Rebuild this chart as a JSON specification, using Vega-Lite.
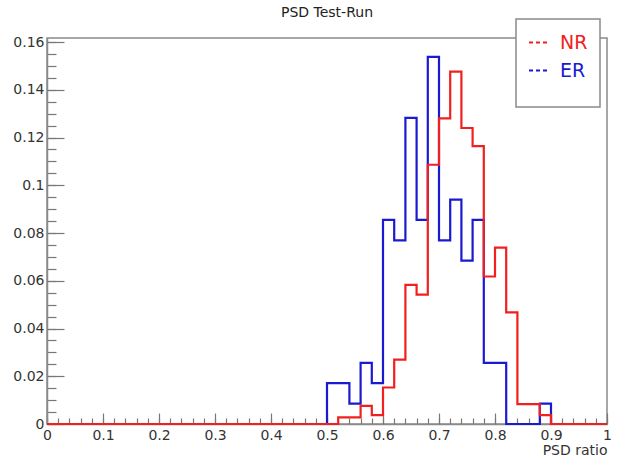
{
  "$schema": "https://vega.github.io/schema/vega-lite/v6.json",
  "width": 560,
  "height": 386,
  "autosize": {"type": "none"},
  "padding": {"left": 47, "top": 38, "right": 25, "bottom": 36},
  "background": "white",
  "title": {"text": "PSD Test-Run", "font": "DejaVu Sans", "fontSize": 14, "fontWeight": "normal", "color": "#222222", "anchor": "middle", "baseline": "bottom", "offset": -16},
  "config": {
    "view": {"stroke": "#8a8a8a", "strokeWidth": 1.5},
    "axis": {"grid": false, "labelFont": "DejaVu Sans", "labelFontSize": 14, "labelColor": "#333333", "domainColor": "#8a8a8a", "domainWidth": 1.5, "tickColor": "#777777", "tickWidth": 1.2, "titleFont": "DejaVu Sans", "titleFontWeight": "normal", "titleColor": "#333333"}
  },
  "data": {"values": [
    {"s":"ER","x":0,"y":0},{"s":"ER","x":0.02,"y":0},{"s":"ER","x":0.04,"y":0},{"s":"ER","x":0.06,"y":0},{"s":"ER","x":0.08,"y":0},
    {"s":"ER","x":0.1,"y":0},{"s":"ER","x":0.12,"y":0},{"s":"ER","x":0.14,"y":0},{"s":"ER","x":0.16,"y":0},{"s":"ER","x":0.18,"y":0},
    {"s":"ER","x":0.2,"y":0},{"s":"ER","x":0.22,"y":0},{"s":"ER","x":0.24,"y":0},{"s":"ER","x":0.26,"y":0},{"s":"ER","x":0.28,"y":0},
    {"s":"ER","x":0.3,"y":0},{"s":"ER","x":0.32,"y":0},{"s":"ER","x":0.34,"y":0},{"s":"ER","x":0.36,"y":0},{"s":"ER","x":0.38,"y":0},
    {"s":"ER","x":0.4,"y":0},{"s":"ER","x":0.42,"y":0},{"s":"ER","x":0.44,"y":0},{"s":"ER","x":0.46,"y":0},{"s":"ER","x":0.48,"y":0},
    {"s":"ER","x":0.5,"y":0.0171},{"s":"ER","x":0.52,"y":0.0171},{"s":"ER","x":0.54,"y":0.0085},{"s":"ER","x":0.56,"y":0.0256},{"s":"ER","x":0.58,"y":0.0171},
    {"s":"ER","x":0.6,"y":0.0855},{"s":"ER","x":0.62,"y":0.0769},{"s":"ER","x":0.64,"y":0.1282},{"s":"ER","x":0.66,"y":0.0855},{"s":"ER","x":0.68,"y":0.1538},
    {"s":"ER","x":0.7,"y":0.0769},{"s":"ER","x":0.72,"y":0.094},{"s":"ER","x":0.74,"y":0.0684},{"s":"ER","x":0.76,"y":0.0855},{"s":"ER","x":0.78,"y":0.0256},
    {"s":"ER","x":0.8,"y":0.0256},{"s":"ER","x":0.82,"y":0},{"s":"ER","x":0.84,"y":0},{"s":"ER","x":0.86,"y":0},{"s":"ER","x":0.88,"y":0.0085},
    {"s":"ER","x":0.9,"y":0},{"s":"ER","x":0.92,"y":0},{"s":"ER","x":0.94,"y":0},{"s":"ER","x":0.96,"y":0},{"s":"ER","x":0.98,"y":0},{"s":"ER","x":1,"y":0},
    {"s":"NR","x":0,"y":0},{"s":"NR","x":0.02,"y":0},{"s":"NR","x":0.04,"y":0},{"s":"NR","x":0.06,"y":0},{"s":"NR","x":0.08,"y":0},
    {"s":"NR","x":0.1,"y":0},{"s":"NR","x":0.12,"y":0},{"s":"NR","x":0.14,"y":0},{"s":"NR","x":0.16,"y":0},{"s":"NR","x":0.18,"y":0},
    {"s":"NR","x":0.2,"y":0},{"s":"NR","x":0.22,"y":0},{"s":"NR","x":0.24,"y":0},{"s":"NR","x":0.26,"y":0},{"s":"NR","x":0.28,"y":0},
    {"s":"NR","x":0.3,"y":0},{"s":"NR","x":0.32,"y":0},{"s":"NR","x":0.34,"y":0},{"s":"NR","x":0.36,"y":0},{"s":"NR","x":0.38,"y":0},
    {"s":"NR","x":0.4,"y":0},{"s":"NR","x":0.42,"y":0},{"s":"NR","x":0.44,"y":0},{"s":"NR","x":0.46,"y":0},{"s":"NR","x":0.48,"y":0},
    {"s":"NR","x":0.5,"y":0},{"s":"NR","x":0.52,"y":0.0028},{"s":"NR","x":0.54,"y":0.0028},{"s":"NR","x":0.56,"y":0.0076},{"s":"NR","x":0.58,"y":0.0037},
    {"s":"NR","x":0.6,"y":0.0153},{"s":"NR","x":0.62,"y":0.027},{"s":"NR","x":0.64,"y":0.0583},{"s":"NR","x":0.66,"y":0.0542},{"s":"NR","x":0.68,"y":0.1086},
    {"s":"NR","x":0.7,"y":0.128},{"s":"NR","x":0.72,"y":0.1476},{"s":"NR","x":0.74,"y":0.124},{"s":"NR","x":0.76,"y":0.1164},{"s":"NR","x":0.78,"y":0.0618},
    {"s":"NR","x":0.8,"y":0.0739},{"s":"NR","x":0.82,"y":0.0468},{"s":"NR","x":0.84,"y":0.0083},{"s":"NR","x":0.86,"y":0.0083},{"s":"NR","x":0.88,"y":0.0037},
    {"s":"NR","x":0.9,"y":0},{"s":"NR","x":0.92,"y":0},{"s":"NR","x":0.94,"y":0},{"s":"NR","x":0.96,"y":0},{"s":"NR","x":0.98,"y":0},{"s":"NR","x":1,"y":0}
  ]},
  "encoding": {
    "color": {"field": "s", "type": "nominal",
      "scale": {"domain": ["NR", "ER"], "range": ["#f02020", "#1a1ad0"]},
      "legend": {
        "orient": "none", "legendX": 469, "legendY": -19,
        "title": "NR ER", "titleColor": "white", "titleOrient": "bottom", "titleFontSize": 13.7, "titlePadding": 0, "titleFont": "DejaVu Sans",
        "padding": 12, "rowPadding": 6,
        "fillColor": "white", "strokeColor": "#8a8a8a",
        "symbolType": "stroke", "symbolSize": 441, "symbolStrokeWidth": 2, "symbolDash": [4, 3],
        "labelFont": "DejaVu Sans", "labelFontSize": 19, "labelOffset": 9,
        "encode": {
          "legend": {"update": {"strokeWidth": {"value": 1.5}}},
          "labels": {"update": {"fill": {"signal": "datum.value === 'NR' ? '#f02020' : '#1a1ad0'"}}}
        }
      }
    }
  },
  "layer": [
    {"transform": [{"filter": "datum.s === 'ER'"}],
     "mark": {"type": "line", "interpolate": "step-after", "strokeWidth": 2.2},
     "encoding": {
       "x": {"field": "x", "type": "quantitative",
         "scale": {"domain": [0, 1], "nice": false, "zero": false},
         "axis": {
           "orient": "bottom",
           "values": [0,0.02,0.04,0.06,0.08,0.1,0.12,0.14,0.16,0.18,0.2,0.22,0.24,0.26,0.28,0.3,0.32,0.34,0.36,0.38,0.4,0.42,0.44,0.46,0.48,0.5,0.52,0.54,0.56,0.58,0.6,0.62,0.64,0.66,0.68,0.7,0.72,0.74,0.76,0.78,0.8,0.82,0.84,0.86,0.88,0.9,0.92,0.94,0.96,0.98,1],
           "labelExpr": "abs(datum.value*10-round(datum.value*10))<1e-6 ? format(datum.value,'~g') : ''",
           "labelOverlap": false, "labelFlush": false, "labelBound": false,
           "tickSize": -6, "labelPadding": 10,
           "title": "PSD ratio", "titleAnchor": "end", "titleFontSize": 14, "titlePadding": 1
         }
       },
       "y": {"field": "y", "type": "quantitative",
         "scale": {"domain": [0, 0.1617], "nice": false},
         "axis": {
           "orient": "left",
           "values": [0,0.005,0.01,0.015,0.02,0.025,0.03,0.035,0.04,0.045,0.05,0.055,0.06,0.065,0.07,0.075,0.08,0.085,0.09,0.095,0.1,0.105,0.11,0.115,0.12,0.125,0.13,0.135,0.14,0.145,0.15,0.155,0.16],
           "labelExpr": "abs(datum.value*50-round(datum.value*50))<1e-6 ? format(datum.value,'~g') : ''",
           "labelOverlap": false, "labelFlush": false, "labelBound": false,
           "tickSize": -9, "labelPadding": 12,
           "title": null
         }
       }
     }},
    {"transform": [{"filter": "datum.s === 'NR'"}],
     "mark": {"type": "line", "interpolate": "step-after", "strokeWidth": 2.2},
     "encoding": {
       "x": {"field": "x", "type": "quantitative",
         "scale": {"domain": [0, 1], "nice": false, "zero": false},
         "axis": {"orient": "bottom", "values": [0,0.1,0.2,0.3,0.4,0.5,0.6,0.7,0.8,0.9,1], "tickSize": -11, "labels": false, "domain": false, "title": null}
       },
       "y": {"field": "y", "type": "quantitative",
         "scale": {"domain": [0, 0.1617], "nice": false},
         "axis": {"orient": "left", "values": [0,0.02,0.04,0.06,0.08,0.1,0.12,0.14,0.16], "tickSize": -17, "labels": false, "domain": false, "title": null}
       }
     }}
  ],
  "resolve": {"axis": {"x": "independent", "y": "independent"}}
}
